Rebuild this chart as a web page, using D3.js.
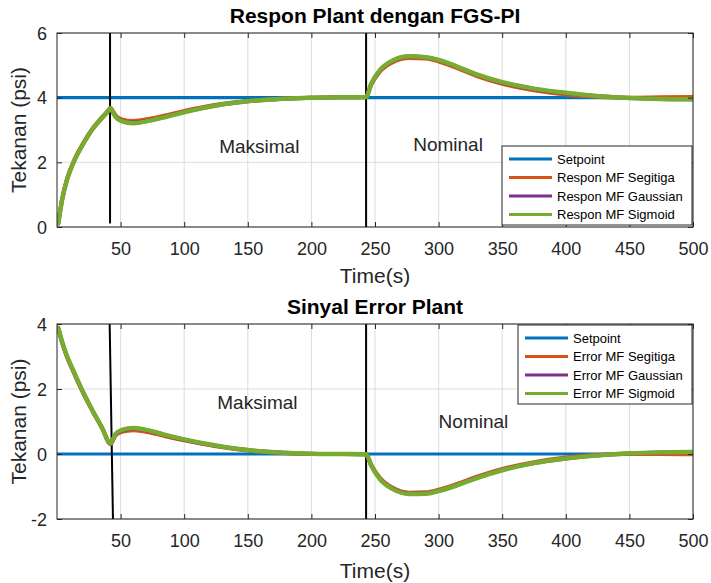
<!DOCTYPE html>
<html>
<head>
<meta charset="utf-8">
<script src="https://cdn.jsdelivr.net/npm/d3@7"></script>
<style>
  body { margin: 0; background: #fff; }
  svg text { font-family: "Liberation Sans", Arial, Helvetica, sans-serif; fill: #262626; }
</style>
</head>
<body>
<svg id="fig" width="711" height="583"></svg>
<script>
// ---- data ----------------------------------------------------------------
const time = [1, 4, 8, 13, 21, 28, 36, 41, 42, 44, 46, 51, 60, 73, 86, 100, 125, 150, 178, 200, 220, 243,
              247, 254, 264, 277, 290, 300, 314, 330, 350, 375, 400, 424, 450, 474, 500];

// plant pressure response (psi)
const responSegitiga = [0.12, 0.86, 1.50, 2.02, 2.62, 3.05, 3.42, 3.64, 3.69, 3.58, 3.46, 3.33, 3.28, 3.35, 3.46, 3.59, 3.78, 3.90, 3.97, 4.00, 4.01, 4.02,
                        4.40, 4.81, 5.10, 5.23, 5.21, 5.12, 4.92, 4.67, 4.43, 4.23, 4.10, 4.03, 4.00, 4.01, 4.02];
const responGaussian = [0.11, 0.84, 1.48, 2.00, 2.60, 3.03, 3.40, 3.62, 3.67, 3.55, 3.42, 3.28, 3.23, 3.30, 3.42, 3.56, 3.76, 3.89, 3.97, 4.00, 4.01, 4.02,
                        4.42, 4.85, 5.14, 5.27, 5.24, 5.16, 4.96, 4.71, 4.47, 4.27, 4.14, 4.05, 3.99, 3.96, 3.95];
const responSigmoid  = [0.11, 0.84, 1.48, 2.00, 2.60, 3.03, 3.40, 3.62, 3.67, 3.55, 3.41, 3.27, 3.21, 3.29, 3.41, 3.55, 3.76, 3.89, 3.97, 4.00, 4.01, 4.02,
                        4.43, 4.86, 5.15, 5.28, 5.25, 5.17, 4.97, 4.72, 4.48, 4.28, 4.15, 4.05, 3.99, 3.96, 3.95];

// error signal (psi)
const errorSegitiga = [3.86, 3.43, 2.97, 2.52, 1.84, 1.31, 0.75, 0.34, 0.30, 0.42, 0.57, 0.68, 0.73, 0.66, 0.54, 0.42, 0.24, 0.11, 0.03, 0.00, 0.00, -0.01,
                       -0.33, -0.74, -1.04, -1.19, -1.18, -1.10, -0.93, -0.70, -0.46, -0.25, -0.11, -0.03, 0.00, 0.00, -0.01];
const errorGaussian = [3.88, 3.45, 2.99, 2.54, 1.86, 1.33, 0.76, 0.34, 0.31, 0.44, 0.60, 0.72, 0.78, 0.71, 0.57, 0.44, 0.25, 0.12, 0.04, 0.01, 0.00, -0.01,
                       -0.35, -0.77, -1.07, -1.22, -1.21, -1.13, -0.96, -0.73, -0.49, -0.28, -0.14, -0.05, 0.02, 0.05, 0.06];
const errorSigmoid  = [3.88, 3.45, 3.00, 2.55, 1.87, 1.33, 0.76, 0.34, 0.32, 0.45, 0.62, 0.74, 0.80, 0.72, 0.58, 0.45, 0.26, 0.12, 0.04, 0.01, 0.00, -0.01,
                       -0.35, -0.78, -1.08, -1.23, -1.22, -1.14, -0.97, -0.74, -0.50, -0.28, -0.14, -0.05, 0.02, 0.05, 0.06];

// setpoint references
const setpointTime = [0, 500];
const setpointRespon = [4, 4];
const setpointError = [0, 0];

// vertical markers for the change of operating condition (t0, v0, t1, v1)
const markerRespon = [[41.7, 6, 41.7, 0.11], [243, 6, 243, -0.5]];
const markerError  = [[41.4, 4, 44.0, -2], [243, 4, 243, -2]];

// annotations (time, value)
const notesRespon = [["Maksimal", 127.5, 2.5], ["Nominal", 280, 2.57]];
const notesError  = [["Maksimal", 126, 1.58], ["Nominal", 300, 0.99]];

const xTicks = [50, 100, 150, 200, 250, 300, 350, 400, 450, 500];
const yTicksRespon = [0, 2, 4, 6];
const yTicksError = [-2, 0, 2, 4];

const legendRespon = ["Setpoint", "Respon MF Segitiga", "Respon MF Gaussian", "Respon MF Sigmoid"];
const legendError  = ["Setpoint", "Error MF Segitiga", "Error MF Gaussian", "Error MF Sigmoid"];

const colors = ["#0072BD", "#D95319", "#7E2F8E", "#77AC30"];

// ---- drawing -------------------------------------------------------------
const svg = d3.select("#fig");
const tickFmt = d => String(d);   // plain hyphen for negative ticks

function panel(cfg) {
  const {id, top, bottom, left, right, yDomain, yTicks, title, titleY, setpoint, series,
         markers, notes, legend, legendBox} = cfg;
  const x = d3.scaleLinear().domain([0, 500]).range([left, right]);
  const y = d3.scaleLinear().domain(yDomain).range([bottom, top]);
  const g = svg.append("g");

  g.append("clipPath").attr("id", "clip-" + id)
    .append("rect").attr("x", left).attr("y", top).attr("width", right - left).attr("height", bottom - top);

  // grid
  g.append("g").selectAll("line").data(xTicks).join("line")
    .attr("x1", d => x(d)).attr("x2", d => x(d)).attr("y1", top).attr("y2", bottom)
    .attr("stroke", "#dcdcdc").attr("stroke-width", 1);
  g.append("g").selectAll("line").data(yTicks).join("line")
    .attr("x1", left).attr("x2", right).attr("y1", d => y(d)).attr("y2", d => y(d))
    .attr("stroke", "#dcdcdc").attr("stroke-width", 1);

  const plot = g.append("g").attr("clip-path", `url(#clip-${id})`);

  // setpoint
  const spLine = d3.line().x((d, i) => x(setpointTime[i])).y(d => y(d));
  plot.append("path").attr("d", spLine(setpoint))
    .attr("fill", "none").attr("stroke", colors[0]).attr("stroke-width", 3.2);

  // vertical markers
  plot.selectAll("line.marker").data(markers).join("line").attr("class", "marker")
    .attr("x1", d => x(d[0])).attr("y1", d => y(d[1]))
    .attr("x2", d => x(d[2])).attr("y2", d => y(d[3]))
    .attr("stroke", "#000").attr("stroke-width", 2);

  // controller responses
  const line = d3.line().curve(d3.curveMonotoneX).x((d, i) => x(time[i])).y(d => y(d));
  series.forEach((s, i) => {
    plot.append("path").attr("d", line(s))
      .attr("fill", "none").attr("stroke", colors[i + 1])
      .attr("stroke-width", i === 2 ? 4.5 : 4).attr("stroke-linejoin", "round").attr("stroke-linecap", "round");
  });

  // annotations
  g.selectAll("text.note").data(notes).join("text").attr("class", "note")
    .attr("x", d => x(d[1])).attr("y", d => y(d[2])).attr("dy", "0.35em")
    .attr("font-size", 19).text(d => d[0]);

  // axes box
  g.append("rect").attr("x", left).attr("y", top).attr("width", right - left).attr("height", bottom - top)
    .attr("fill", "none").attr("stroke", "#262626").attr("stroke-width", 1);

  // ticks
  const xAxis = d3.axisBottom(x).tickValues(xTicks).tickSize(-5).tickPadding(0).tickFormat(tickFmt);
  const gx = g.append("g").attr("transform", `translate(0,${bottom})`).call(xAxis);
  gx.select(".domain").remove();
  gx.selectAll(".tick line").attr("stroke", "#262626");
  gx.selectAll(".tick text").attr("y", 28).attr("dy", null).attr("font-size", 18);
  const gxTop = g.append("g").attr("transform", `translate(0,${top})`).call(d3.axisTop(x).tickValues(xTicks).tickSize(-5).tickFormat(""));
  gxTop.select(".domain").remove();
  gxTop.selectAll(".tick line").attr("stroke", "#262626");

  const yAxis = d3.axisLeft(y).tickValues(yTicks).tickSize(-5).tickPadding(0).tickFormat(tickFmt);
  const gy = g.append("g").attr("transform", `translate(${left},0)`).call(yAxis);
  gy.select(".domain").remove();
  gy.selectAll(".tick line").attr("stroke", "#262626");
  gy.selectAll(".tick text").attr("x", -10).attr("dy", "0.35em").attr("font-size", 18);
  const gyR = g.append("g").attr("transform", `translate(${right},0)`).call(d3.axisRight(y).tickValues(yTicks).tickSize(-5).tickFormat(""));
  gyR.select(".domain").remove();
  gyR.selectAll(".tick line").attr("stroke", "#262626");
  svg.selectAll(".tick text").attr("fill", "#262626").attr("font-family", "'Liberation Sans', Arial, sans-serif");

  // labels
  g.append("text").attr("x", (left + right) / 2).attr("y", titleY).attr("text-anchor", "middle")
    .attr("font-size", 21).attr("font-weight", "bold").style("fill", "#000").text(title);
  g.append("text").attr("x", (left + right) / 2).attr("y", cfg.xLabelY).attr("text-anchor", "middle")
    .attr("font-size", 21).text("Time(s)");
  g.append("text").attr("transform", `translate(26,${(top + bottom) / 2}) rotate(-90)`)
    .attr("text-anchor", "middle").attr("font-size", 21).text("Tekanan (psi)");

  // legend
  const lg = g.append("g");
  lg.append("rect").attr("x", legendBox.x).attr("y", legendBox.y).attr("width", legendBox.w).attr("height", legendBox.h)
    .attr("fill", "#fff").attr("stroke", "#262626").attr("stroke-width", 1);
  const rows = lg.selectAll("g.row").data(legend).join("g").attr("class", "row")
    .attr("transform", (d, i) => `translate(${legendBox.x},${legendBox.y + 13 + i * 18.5})`);
  rows.append("line").attr("x1", 7).attr("x2", 50).attr("y1", 0).attr("y2", 0)
    .attr("stroke", (d, i) => colors[i]).attr("stroke-width", 3.2);
  rows.append("text").attr("x", 55).attr("y", 0).attr("dy", "0.35em").attr("font-size", 13)
    .style("fill", "#000").text(d => d);
}

panel({
  id: "respon", top: 33, bottom: 227, left: 57, right: 693,
  yDomain: [0, 6], yTicks: yTicksRespon, title: "Respon Plant dengan FGS-PI", titleY: 23, xLabelY: 283,
  setpoint: setpointRespon, series: [responSegitiga, responGaussian, responSigmoid],
  markers: markerRespon, notes: notesRespon, legend: legendRespon,
  legendBox: {x: 502, y: 146, w: 190, h: 79}
});

panel({
  id: "error", top: 324, bottom: 519, left: 57, right: 693,
  yDomain: [-2, 4], yTicks: yTicksError, title: "Sinyal Error Plant", titleY: 314, xLabelY: 578,
  setpoint: setpointError, series: [errorSegitiga, errorGaussian, errorSigmoid],
  markers: markerError, notes: notesError, legend: legendError,
  legendBox: {x: 518, y: 325, w: 174, h: 79}
});
</script>
</body>
</html>
